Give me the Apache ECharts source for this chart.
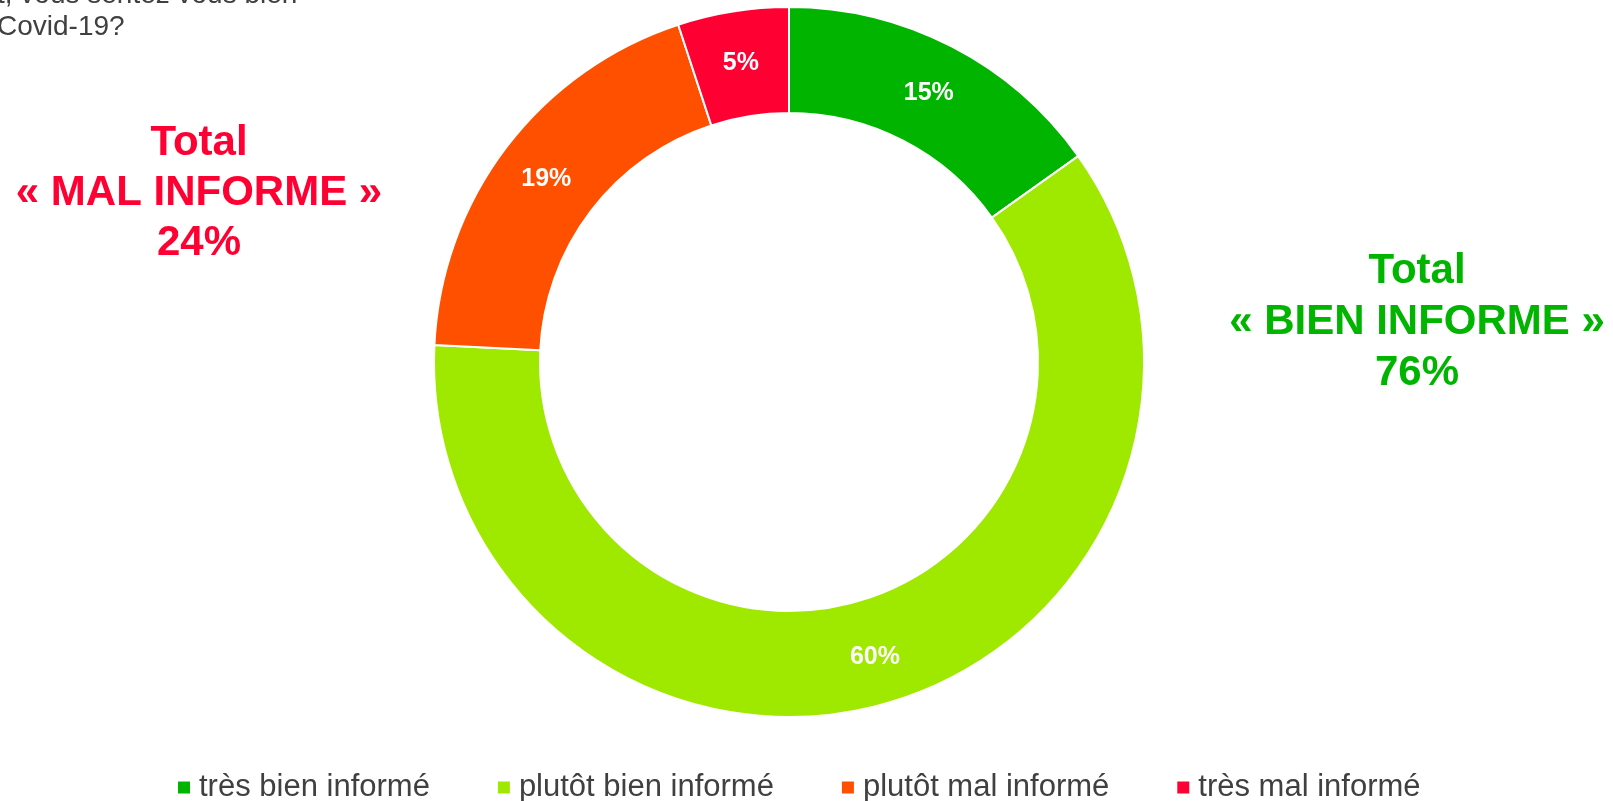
<!DOCTYPE html>
<html>
<head>
<meta charset="utf-8">
<script src="https://cdn.jsdelivr.net/npm/echarts@6/dist/echarts.min.js"></script>
<style>
  html, body { margin: 0; padding: 0; background: #fff; }
  #pieChart { width: 1613px; height: 801px; }
</style>
</head>
<body>
<div id="pieChart"></div>
<script>
// données
const categories = ['très bien informé', 'plutôt bien informé', 'plutôt mal informé', 'très mal informé']
const values = [15, 60, 19, 5]
const colorArr = ['#00b400', '#9fe800', '#ff5000', '#ff0033']
const totalMal = 24
const totalBien = 76

const font = "'Liberation Sans', Arial, sans-serif"

const seriesData = categories.map(function (name, i) {
  return { name: name, value: values[i], itemStyle: { color: colorArr[i] } }
})

let myChart = echarts.init(document.getElementById('pieChart'))
myChart.setOption({
  animation: false,
  legend: {
    data: categories,
    left: 171,
    top: 767,
    itemWidth: 14,
    itemHeight: 14,
    itemGap: 66,
    icon: 'rect',
    textStyle: {
      color: '#404040',
      fontSize: 31,
      fontFamily: font,
      padding: [0, 0, 0, 3]
    }
  },
  graphic: [
    {
      type: 'text',
      left: -3,
      top: -21,
      style: {
        text: 't, vous sentez vous bien\nCovid-19?',
        font: '28px ' + font,
        fill: '#404040',
        lineHeight: 32
      }
    },
    {
      type: 'text',
      x: 199,
      y: 118,
      style: {
        text: 'Total\n« MAL INFORME »\n' + totalMal + '%',
        font: 'bold 42px ' + font,
        fill: '#ff0033',
        align: 'center',
        verticalAlign: 'top',
        lineHeight: 50
      }
    },
    {
      type: 'text',
      x: 1417,
      y: 246,
      style: {
        text: 'Total\n« BIEN INFORME »\n' + totalBien + '%',
        font: 'bold 42px ' + font,
        fill: '#00b400',
        align: 'center',
        verticalAlign: 'top',
        lineHeight: 51
      }
    }
  ],
  series: [
    {
      type: 'pie',
      center: [789, 362],
      radius: [249, 355],
      startAngle: 90,
      clockwise: true,
      avoidLabelOverlap: false,
      itemStyle: {
        borderColor: '#ffffff',
        borderWidth: 2
      },
      label: {
        show: true,
        position: 'inside',
        formatter: '{c}%',
        color: '#ffffff',
        fontSize: 25,
        fontWeight: 'bold',
        fontFamily: font,
        offset: [0, 2]
      },
      labelLine: { show: false },
      emphasis: { disabled: true },
      data: seriesData
    }
  ]
})
</script>
</body>
</html>
